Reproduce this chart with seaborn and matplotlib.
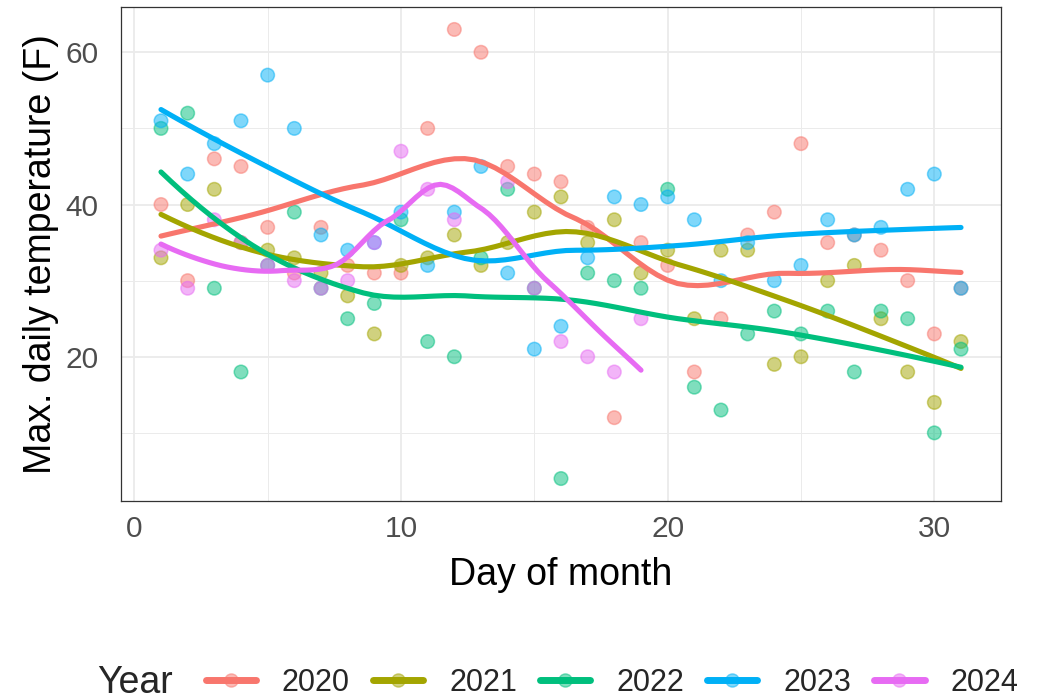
import numpy as np
import pandas as pd
import matplotlib
matplotlib.use("Agg")
import matplotlib.pyplot as plt
from matplotlib.lines import Line2D
from matplotlib.ticker import MultipleLocator
import seaborn as sns

# Daily maximum temperatures (F) by day of month, one list per year
days = list(range(1, 32))
t2020 = [40, 30, 46, 45, 37, 31, 37, 32, 31, 31, 50, 63, 60, 45, 44, 43,
         37, 12, 35, 32, 18, 25, 36, 39, 48, 35, 36, 34, 30, 23, 29]
t2021 = [33, 40, 42, 35, 34, 33, 31, 28, 23, 32, 33, 36, 32, 35, 39, 41,
         35, 38, 31, 34, 25, 34, 34, 19, 20, 30, 32, 25, 18, 14, 22]
t2022 = [50, 52, 29, 18, 32, 39, 29, 25, 27, 38, 22, 20, 33, 42, 29, 4,
         31, 30, 29, 42, 16, 13, 23, 26, 23, 26, 18, 26, 25, 10, 21]
t2023 = [51, 44, 48, 51, 57, 50, 36, 34, 35, 39, 32, 39, 45, 31, 21, 24,
         33, 41, 40, 41, 38, 30, 35, 30, 32, 38, 36, 37, 42, 44, 29]
days2024 = [1, 2, 3, 4, 5, 6, 7, 8, 9, 10, 11, 12, 14, 15, 16, 17, 18, 19]
t2024 = [34, 29, 38, 35, 32, 30, 29, 30, 35, 47, 42, 38, 43, 29, 22, 20,
         18, 25]

years = ["2020", "2021", "2022", "2023", "2024"]
colors = ["#F8766D", "#A3A500", "#00BF7D", "#00B0F6", "#E76BF3"]

frames = []
for yr, dd, tt in zip(years, [days, days, days, days, days2024],
                      [t2020, t2021, t2022, t2023, t2024]):
    frames.append(pd.DataFrame({"day": dd, "temp": tt, "Year": yr}))
df = pd.concat(frames, ignore_index=True)


def local_fit(x, y, x0, q):
    """Tricube-weighted local quadratic; returns value and slope at x0."""
    n = len(x)
    d = np.abs(x - x0)
    h = np.sort(d)[q - 1]
    w = np.clip(1 - (d / h) ** 3, 0, None) ** 3
    X = np.column_stack([np.ones(n), x - x0, (x - x0) ** 2])
    sw = np.sqrt(w)
    beta, *_ = np.linalg.lstsq(X * sw[:, None], y * sw, rcond=None)
    return beta[0], beta[1]


def loess(x, y, xs, span=0.75, cell=0.2):
    """Loess smoother evaluated on a k-d tree of vertices and joined
    with cubic Hermite interpolation."""
    x = np.asarray(x, float)
    y = np.asarray(y, float)
    n = len(x)
    q = int(np.floor(n * span))
    fc = int(np.floor(n * span * cell))
    lo, hi = x.min(), x.max()
    mu = 0.005 * (hi - lo)
    cuts = []

    def split(pts):
        if len(pts) <= fc:
            return
        m = (len(pts) + 1) // 2 - 1
        v = (pts[m] + pts[m + 1]) / 2
        cuts.append(v)
        split(pts[:m + 1])
        split(pts[m + 1:])

    split(np.sort(x))
    verts = np.array([lo - mu] + sorted(cuts) + [hi + mu])
    vals = np.array([local_fit(x, y, v, q) for v in verts])
    out = []
    for t in xs:
        i = min(np.searchsorted(verts, t, side="right") - 1, len(verts) - 2)
        v0, v1 = verts[i], verts[i + 1]
        hh = v1 - v0
        s = (t - v0) / hh
        f0, d0 = vals[i]
        f1, d1 = vals[i + 1]
        h00 = 2 * s ** 3 - 3 * s ** 2 + 1
        h10 = s ** 3 - 2 * s ** 2 + s
        h01 = -2 * s ** 3 + 3 * s ** 2
        h11 = s ** 3 - s ** 2
        out.append(h00 * f0 + h10 * hh * d0 + h01 * f1 + h11 * hh * d1)
    return np.array(out)


smooth = []
for yr in years:
    sub = df[df["Year"] == yr]
    xs = np.linspace(sub["day"].min(), sub["day"].max(), 80)
    smooth.append(pd.DataFrame({"day": xs,
                                "temp": loess(sub["day"], sub["temp"], xs),
                                "Year": yr}))
smooth = pd.concat(smooth, ignore_index=True)

sns.set_theme(style="white")
plt.rcParams["font.family"] = ["Liberation Sans", "DejaVu Sans"]

fig = plt.figure(figsize=(10.47, 6.99), dpi=100)
ax = fig.add_axes([121 / 1047, 1 - 501 / 699, 880 / 1047, 494 / 699])

pal = dict(zip(years, colors))
sns.scatterplot(data=df, x="day", y="temp", hue="Year", palette=pal,
                s=95, alpha=0.5, linewidth=1.1, edgecolor=None,
                legend=False, ax=ax, zorder=3)
for coll in ax.collections:
    coll.set_edgecolor(coll.get_facecolor())
sns.lineplot(data=smooth, x="day", y="temp", hue="Year", palette=pal,
             linewidth=3.7, legend=False, ax=ax, zorder=4, sort=False)

ax.set_xlim(-0.5, 32.5)
ax.set_ylim(1.05, 65.95)
ax.xaxis.set_major_locator(MultipleLocator(10))
ax.xaxis.set_minor_locator(MultipleLocator(5))
ax.set_yticks([20, 40, 60])
ax.set_yticks([10, 30, 50], minor=True)
ax.grid(True, which="major", color="#EBEBEB", linewidth=1.3, zorder=0)
ax.grid(True, which="minor", color="#EBEBEB", linewidth=0.7, zorder=0)
ax.set_axisbelow(True)
for sp in ax.spines.values():
    sp.set_color("#333333")
    sp.set_linewidth(0.9)
ax.tick_params(axis="both", which="major", length=4, width=0.9,
               color="#333333", labelsize=21.5, labelcolor="#4D4D4D")
ax.tick_params(axis="x", which="major", pad=6)
ax.tick_params(axis="y", which="major", pad=12)
ax.tick_params(axis="both", which="minor", length=0)

ax.set_xlabel("Day of month", fontsize=27, color="black")
ax.set_ylabel("Max. daily temperature (F)", fontsize=27, color="black")
ax.xaxis.label.set_va("center")
ax.yaxis.label.set_va("center")
ax.xaxis.set_label_coords(0.5, (501 - 575) / 494)
ax.yaxis.set_label_coords((41 - 121) / 880, 0.5)

# Legend along the bottom: title on the left, keys in one row
handles = [Line2D([0], [0], color=c, linewidth=5,
                  marker="o", markersize=9.5,
                  markerfacecolor=matplotlib.colors.to_rgba(c, 0.5),
                  markeredgecolor=matplotlib.colors.to_rgba(c, 0.5))
           for c in colors]
fig.text(97 / 1047, 1 - 683 / 699, "Year", fontsize=27, va="center",
         ha="left")
fig.legend(handles, years, ncol=5, loc="center",
           bbox_to_anchor=(612 / 1047, 1 - 683 / 699), frameon=False,
           fontsize=22, handlelength=1.65, handletextpad=0.85,
           columnspacing=0.75, borderpad=0)

fig.savefig("out.png", dpi=100)
